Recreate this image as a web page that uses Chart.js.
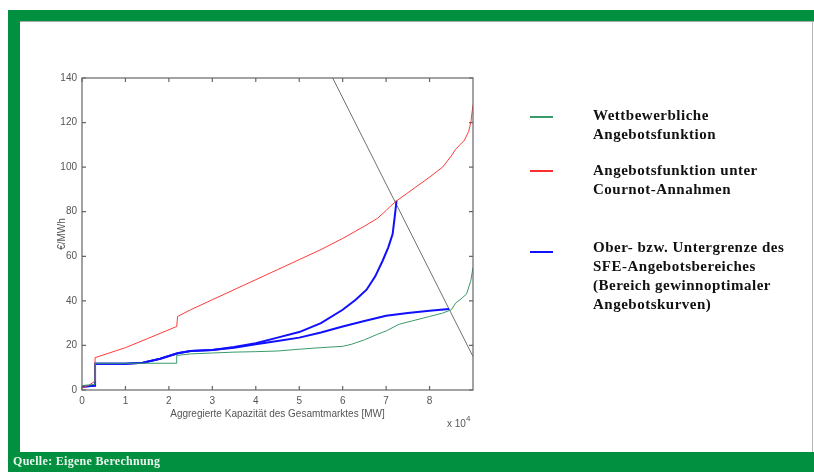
<!DOCTYPE html>
<html>
<head>
<meta charset="utf-8">
<script src="https://cdn.jsdelivr.net/npm/chart.js@4.4.1/dist/chart.umd.min.js"></script>
<style>
  html, body { margin: 0; padding: 0; background: #fff; }
  #wrap { position: relative; width: 814px; height: 472px; overflow: hidden; }
  #plot { position: absolute; left: 0; top: 0; }
  .bar { position: absolute; background: #009040; }
  .legline { position: absolute; left: 530px; width: 23px; height: 2px; }
  .legtext { position: absolute; left: 593px; font: bold 15px "Liberation Serif", "DejaVu Serif", serif;
             letter-spacing: 0.5px; line-height: 19px; color: #111; white-space: nowrap; }
  #src { position: absolute; left: 13px; top: 454px; font: bold 12px "Liberation Serif", serif; letter-spacing: 0.3px; color: #eef5ee; }
  #exp { position: absolute; left: 447px; top: 416px; font: 10px "Liberation Sans", Arial, sans-serif; color: #555; }
  #exp sup { font-size: 8px; position: relative; top: -2px; }
</style>
</head>
<body>
<div id="wrap">
  <div class="bar" style="left:8px; top:10px; width:806px; height:11px;"></div>
  <div style="position:absolute; left:20px; top:21px; width:794px; height:1px; background:#a8a8a8;"></div>
  <div class="bar" style="left:8px; top:10px; width:12px; height:462px;"></div>
  <div class="bar" style="left:8px; top:452px; width:806px; height:20px;"></div>
  <div style="position:absolute; left:812px; top:21px; width:1px; height:431px; background:#b8b8b8;"></div>

  <canvas id="plot" width="814" height="472"></canvas>

  <div class="legline" style="top:116px; background:#3a9a6a;"></div>
  <div class="legtext" style="top:106px;">Wettbewerbliche<br>Angebotsfunktion</div>
  <div class="legline" style="top:170px; background:#ff3030;"></div>
  <div class="legtext" style="top:161px;">Angebotsfunktion unter<br>Cournot-Annahmen</div>
  <div class="legline" style="top:251px; background:#1010ff;"></div>
  <div class="legtext" style="top:238px;">Ober- bzw. Untergrenze des<br>SFE-Angebotsbereiches<br>(Bereich gewinnoptimaler<br>Angebotskurven)</div>

  <div id="exp">x 10<sup>4</sup></div>
  <div id="src">Quelle: Eigene Berechnung</div>
</div>

<script>
// x in 10^4 MW, y in €/MWh
const xGreen = [0, 0.3, 0.3, 1.0, 2.18, 2.18, 2.5, 3.0, 3.5, 4.0, 4.5, 5.0, 5.5, 6.0, 6.2, 6.5, 6.8, 7.0, 7.3, 7.6, 8.0, 8.3, 8.5, 8.6, 8.7, 8.85, 8.95, 9.0];
const yGreen = [2, 2.5, 12, 12, 12, 15.5, 16.2, 16.6, 17, 17.2, 17.5, 18.3, 19, 19.6, 20.5, 22.5, 25, 26.5, 29.5, 31, 33, 34.5, 36, 39, 40.5, 43, 49, 55];

const xRed = [0, 0.15, 0.3, 0.3, 1.0, 1.5, 2.18, 2.2, 2.5, 3.0, 3.5, 4.0, 4.5, 5.0, 5.5, 6.0, 6.5, 6.8, 7.0, 7.1, 7.25, 7.5, 8.0, 8.3, 8.5, 8.6, 8.7, 8.8, 8.9, 8.95, 9.0];
const yRed = [1, 2, 4, 14.5, 19, 23, 28.5, 33, 36, 40.5, 45, 49.5, 54, 58.5, 63, 68, 73.5, 77, 80.5, 82.5, 85, 88.5, 95.5, 100, 105, 108, 110, 112, 116, 120, 128];

const xBlueUp = [0, 0.3, 0.3, 1.0, 1.4, 1.8, 2.2, 2.5, 3.0, 3.5, 4.0, 4.5, 5.0, 5.5, 6.0, 6.3, 6.55, 6.75, 6.92, 7.05, 7.15, 7.2, 7.24];
const yBlueUp = [1.5, 2, 11.8, 11.8, 12.2, 14, 16.5, 17.5, 18, 19.3, 21, 23.5, 26, 30, 36, 40.5, 45, 51, 58, 64, 70, 78, 85];

const xBlueLo = [0, 0.3, 0.3, 1.0, 1.4, 1.8, 2.2, 2.5, 3.0, 3.5, 4.0, 4.5, 5.0, 5.5, 6.0, 6.5, 7.0, 7.5, 8.0, 8.45];
const yBlueLo = [1.5, 2, 11.8, 11.8, 12.2, 14, 16.5, 17.5, 18, 19, 20.5, 22, 23.5, 25.8, 28.5, 31, 33.3, 34.5, 35.6, 36.3];

const xDemand = [5.77, 9.0];
const yDemand = [140, 15];

const xTicks = [0, 1, 2, 3, 4, 5, 6, 7, 8];
const yTicks = [0, 20, 40, 60, 80, 100, 120, 140];

const pts = (xs, ys) => xs.map((x, i) => ({ x, y: ys[i] }));

function line(data, color, width) {
  return { data, borderColor: color, borderWidth: width, pointRadius: 0, showLine: true, tension: 0, fill: false };
}

// MATLAB-style box with inward ticks on all four sides
const boxPlugin = {
  id: 'box',
  afterDatasetsDraw(chart) {
    const { ctx, chartArea: a, scales: { x, y } } = chart;
    ctx.save();
    ctx.strokeStyle = '#666';
    ctx.lineWidth = 1.2;
    ctx.strokeRect(a.left, a.top, a.right - a.left, a.bottom - a.top);
    ctx.beginPath();
    xTicks.forEach(v => {
      const px = x.getPixelForValue(v);
      ctx.moveTo(px, a.bottom); ctx.lineTo(px, a.bottom - 4);
      ctx.moveTo(px, a.top); ctx.lineTo(px, a.top + 4);
    });
    yTicks.forEach(v => {
      const py = y.getPixelForValue(v);
      ctx.moveTo(a.left, py); ctx.lineTo(a.left + 4, py);
      ctx.moveTo(a.right, py); ctx.lineTo(a.right - 4, py);
    });
    ctx.stroke();
    ctx.restore();
  }
};

const tickFont = { family: "'Liberation Sans', Arial, sans-serif", size: 10 };

new Chart(document.getElementById('plot'), {
  type: 'scatter',
  data: {
    datasets: [
      line(pts(xGreen, yGreen), '#3a9a6a', 1),
      line(pts(xRed, yRed), '#ff3a3a', 1),
      line(pts(xBlueUp, yBlueUp), '#1010ff', 2),
      line(pts(xBlueLo, yBlueLo), '#1010ff', 2),
      line(pts(xDemand, yDemand), '#707070', 1),
    ]
  },
  options: {
    responsive: false, animation: false,
    layout: { padding: { left: 52, top: 78, right: 341, bottom: 46 } },
    scales: {
      x: {
        type: 'linear', min: 0, max: 9,
        grid: { display: false, drawTicks: false }, border: { display: false },
        afterBuildTicks: s => { s.ticks = xTicks.map(v => ({ value: v })); },
        afterFit: s => { s.height = 36; },
        ticks: { font: tickFont, color: '#555', padding: 5, maxRotation: 0 },
        title: { display: true, text: 'Aggregierte Kapazität des Gesamtmarktes [MW]', font: tickFont, color: '#555', padding: { top: 0, bottom: 6 } }
      },
      y: {
        type: 'linear', min: 0, max: 140,
        grid: { display: false, drawTicks: false }, border: { display: false },
        afterBuildTicks: s => { s.ticks = yTicks.map(v => ({ value: v })); },
        afterFit: s => { s.width = 30; },
        ticks: { font: tickFont, color: '#555', padding: 5 },
        title: { display: true, text: '€/MWh', font: tickFont, color: '#555', padding: { top: 4, bottom: 0 } }
      }
    },
    plugins: { legend: { display: false }, tooltip: { enabled: false } }
  },
  plugins: [boxPlugin]
});
</script>
</body>
</html>
